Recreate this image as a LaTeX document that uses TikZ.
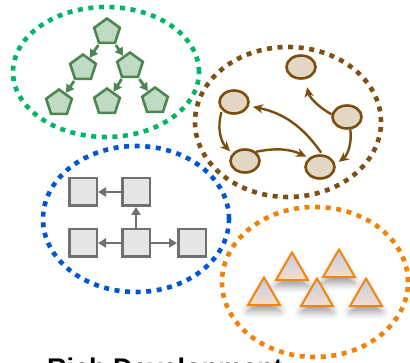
\documentclass[tikz,border=0pt]{standalone}
\usepackage{fontspec}
\setmainfont{Liberation Sans}
\usetikzlibrary{shapes.geometric,arrows.meta,shadows.blur}

\definecolor{ringgreen}{RGB}{0,182,102}
\definecolor{ringbrown}{RGB}{124,80,18}
\definecolor{ringblue}{RGB}{0,84,214}
\definecolor{ringorange}{RGB}{240,130,8}
\definecolor{pentfill}{RGB}{193,218,196}
\definecolor{pentline}{RGB}{76,134,82}
\definecolor{ovalfill}{RGB}{226,214,196}
\definecolor{ovalline}{RGB}{124,78,14}
\definecolor{boxfill}{RGB}{230,230,230}
\definecolor{boxline}{RGB}{112,112,112}
\definecolor{tritop}{RGB}{192,204,234}
\definecolor{trimid}{RGB}{226,214,220}
\definecolor{tribot}{RGB}{248,222,200}
\definecolor{triline}{RGB}{240,134,14}

\tikzset{
  ring/.style={line width=4.6pt, dash pattern=on 5pt off 5.6pt},
  pent/.style={regular polygon, regular polygon sides=5, minimum size=27pt,
    inner sep=0pt, draw=pentline, fill=pentfill, line width=2.6pt},
  garrow/.style={draw=pentline, line width=2.8pt,
    -{Triangle[length=8pt,width=9pt]}, shorten >=0pt, shorten <=1pt},
  oval/.style={ellipse, minimum width=29pt, minimum height=23pt, inner sep=0pt,
    draw=ovalline, fill=ovalfill, line width=2.6pt},
  barrow/.style={draw=ovalline, line width=2.4pt,
    -{Stealth[length=10pt,width=9pt,inset=3pt]}},
  sq/.style={rectangle, minimum size=27.5pt, inner sep=0pt,
    draw=boxline, fill=boxfill, line width=2.5pt},
  qarrow/.style={draw=boxline, line width=2.6pt,
    -{Triangle[length=8pt,width=9pt]}},
  tri/.style={regular polygon, regular polygon sides=3, minimum size=37pt,
    inner sep=0pt, draw=triline, line width=2pt,
    top color=tritop, middle color=trimid, bottom color=tribot,
    blur shadow={shadow xshift=0pt, shadow yshift=-6pt,
      shadow blur radius=7pt, shadow opacity=38}},
}

\begin{document}
\begin{tikzpicture}[x=1pt, y=-1pt]
\useasboundingbox (0,0) rectangle (410,363);

% dotted rings around the four groups
\draw[ring, ringgreen]  (106,72)  ellipse [x radius=93pt, y radius=65pt];
\draw[ring, ringblue]   (136,219) ellipse [x radius=93pt, y radius=73pt];
\draw[ring, ringorange] (315,282) ellipse [x radius=93pt, y radius=75pt];
\draw[ring, ringbrown]  (288,122) ellipse [x radius=93pt, y radius=75pt];

% tree of pentagons
\node[pent] (g1) at (107,32) {};
\node[pent] (g2) at (83,68) {};
\node[pent] (g3) at (130,66) {};
\node[pent] (g4) at (59,103) {};
\node[pent] (g5) at (107,102) {};
\node[pent] (g6) at (155,101) {};
\draw[garrow] (g1) -- (g2);
\draw[garrow] (g1) -- (g3);
\draw[garrow] (g2) -- (g4);
\draw[garrow] (g3) -- (g5);
\draw[garrow] (g3) -- (g6);

% cycle of ovals
\node[oval] (bt) at (301,67) {};
\node[oval] (bl) at (234,102) {};
\node[oval] (br) at (347,117) {};
\node[oval] (bbl) at (245,161) {};
\node[oval] (bbr) at (320,167) {};
\draw[barrow, shorten >=8pt] (br.170) to[bend left=25] (bt.-70);
\draw[barrow, shorten >=4pt] (br.-75) to[bend left=30] (bbr.10);
\draw[barrow, shorten <=2pt, shorten >=4pt] (bbr.80) to[bend right=22] (bl.-15);
\draw[barrow, shorten <=2pt, shorten >=3pt] (bl.215) to[bend right=30] (bbl.150);
\draw[barrow, shorten >=3pt] (bbl.40) to[bend left=18] (bbr.140);

% boxes
\node[sq] (q1) at (83,192) {};
\node[sq] (q2) at (136,192) {};
\node[sq] (q3) at (83,243) {};
\node[sq] (q4) at (136,243) {};
\node[sq] (q5) at (192,243) {};
\draw[qarrow] (q2) -- (q1);
\draw[qarrow] (q4) -- (q2);
\draw[qarrow] (q4) -- (q3);
\draw[qarrow] (q4) -- (q5);

% triangles with soft shadows
\node[tri] (t1) at (292,271) {};
\node[tri] (t2) at (339,268) {};
\node[tri] (t3) at (264,296) {};
\node[tri] (t4) at (317,297) {};
\node[tri] (t5) at (366,297) {};

% caption
\node[anchor=north west, inner sep=0pt, font=\bfseries\fontsize{27}{32}\selectfont]
  (cap) at (47,358) {Rich Development};
\end{tikzpicture}
\end{document}
